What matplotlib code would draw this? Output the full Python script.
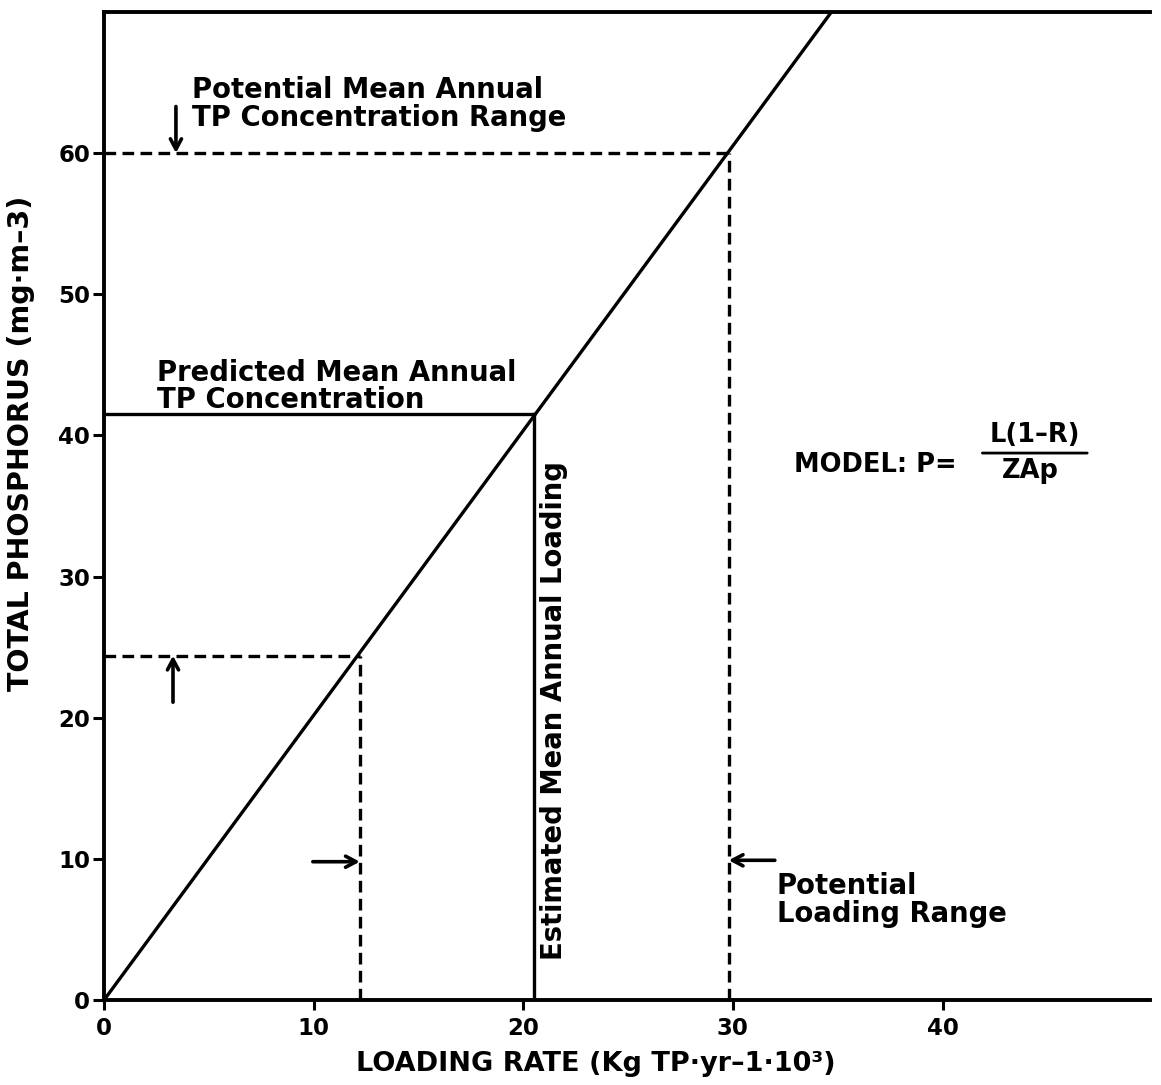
import matplotlib
matplotlib.use("Agg")
import matplotlib.pyplot as plt

# ---- data ----
loading_line = [0.0, 34.7]          # model line (kg TP/yr x 1e3)
tp_line = [0.0, 70.0]               # mg/m3
loading_est = 20.5                  # estimated mean annual loading
tp_est = 41.5                       # predicted mean annual TP
loading_range = [12.2, 29.8]        # potential loading range
tp_range = [24.4, 60.0]             # potential TP concentration range
x_ticks = [0, 10, 20, 30, 40]
y_ticks = [0, 10, 20, 30, 40, 50, 60]

plt.rcParams['font.family'] = ['DejaVu Sans']

fig = plt.figure(figsize=(11.61, 10.85), dpi=100)
ax = fig.add_axes([0.0896, 0.0783, 0.901, 0.9107])
ax.set_xlim(0, 49.9)
ax.set_ylim(0, 70)

# spines
for s in ['left', 'bottom', 'top']:
    ax.spines[s].set_linewidth(2.8)
ax.spines['right'].set_visible(False)

ax.set_xticks(x_ticks)
ax.set_yticks(y_ticks)
ax.tick_params(axis='y', direction='out', length=8, width=2.2, labelsize=16.5, pad=2)
ax.tick_params(axis='x', direction='out', length=7, width=2.2, labelsize=16.5, pad=5)
for lab in ax.get_xticklabels() + ax.get_yticklabels():
    lab.set_fontweight('bold')

ax.set_xlabel('LOADING RATE (Kg TP\u00b7yr\u20131\u00b710\u00b3)', fontsize=19.5,
              fontweight='bold')
ax.xaxis.set_label_coords(0.47, -0.052)
ax.set_ylabel('TOTAL PHOSPHORUS (mg\u00b7m\u20133)', fontsize=20.5,
              fontweight='bold')
ax.yaxis.set_label_coords(-0.066, 0.563)

lw = 2.4
dash = (0, (3.5, 1.9))
# model line
ax.plot(loading_line, tp_line, color='black', lw=lw, solid_capstyle='butt')
# estimated loading / predicted TP
ax.plot([0, loading_est], [tp_est, tp_est], color='black', lw=lw)
ax.plot([loading_est, loading_est], [0, tp_est], color='black', lw=lw)
# ranges (dashed)
for L, P in zip(loading_range, tp_range):
    ax.plot([0, L], [P, P], color='black', lw=lw, linestyle=dash)
    ax.plot([L, L], [0, P], color='black', lw=lw, linestyle=dash)

aprops = dict(arrowstyle='->,head_length=0.75,head_width=0.4', lw=2.6,
              color='black', shrinkA=0, shrinkB=0)
# arrows
ax.annotate('', xy=(3.43, tp_range[1]), xytext=(3.43, 63.3), arrowprops=aprops)
ax.annotate('', xy=(3.29, tp_range[0]), xytext=(3.29, 21.1), arrowprops=aprops)
ax.annotate('', xy=(loading_range[0], 9.8), xytext=(9.96, 9.8), arrowprops=aprops)
ax.annotate('', xy=(loading_range[1], 9.9), xytext=(32.0, 9.9), arrowprops=aprops)

tfs = 19.8
tw = 'bold'
ax.text(4.2, 61.5, 'Potential Mean Annual\nTP Concentration Range', fontsize=tfs,
        fontweight=tw, ha='left', va='bottom', linespacing=0.98)
ax.text(2.55, 41.5, 'Predicted Mean Annual\nTP Concentration', fontsize=tfs,
        fontweight=tw, ha='left', va='bottom', linespacing=0.98)
ax.text(32.1, 5.1, 'Potential\nLoading Range', fontsize=tfs,
        fontweight=tw, ha='left', va='bottom', linespacing=0.98)
ax.text(20.8, 2.85, 'Estimated Mean Annual Loading', fontsize=tfs,
        fontweight=tw, rotation=90, ha='left', va='bottom')

# model formula
mfs = 18.5
ax.text(32.9, 37.9, 'MODEL: P=', fontsize=mfs, fontweight=tw, ha='left', va='center')
ax.text(44.4, 39.1, 'L(1\u2013R)', fontsize=mfs, fontweight=tw, ha='center', va='bottom')
ax.text(44.2, 38.4, 'ZAp', fontsize=mfs, fontweight=tw, ha='center', va='top')
ax.annotate('', xy=(46.9, 38.75), xytext=(41.9, 38.75),
            arrowprops=dict(arrowstyle='-', lw=2.0, color='black',
                            shrinkA=0, shrinkB=0))

fig.savefig('out.png', dpi=100)
